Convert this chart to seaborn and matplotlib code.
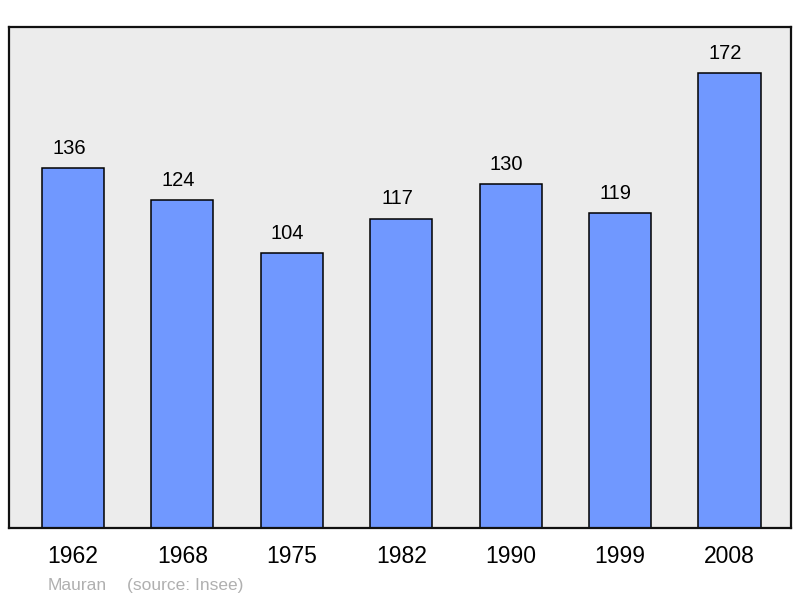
import matplotlib

matplotlib.use("Agg")
import matplotlib.pyplot as plt
import pandas as pd
import seaborn as sns

YEARS = ["1962", "1968", "1975", "1982", "1990", "1999", "2008"]
POPULATION = [136, 124, 104, 117, 130, 119, 172]
COMMUNE = "Mauran"
SOURCE = "(source: Insee)"

BAR_COLOR = "#7098ff"
PANEL_COLOR = "#ececec"


def main() -> None:
    sns.set_theme(style="white")
    plt.rcParams["font.family"] = ["Liberation Sans", "DejaVu Sans"]

    df = pd.DataFrame({"year": YEARS, "population": POPULATION})

    fig = plt.figure(figsize=(8, 5.98), dpi=100)
    ax = fig.add_axes([0.01125, 0.117, 0.9775, 0.8378])
    ax.set_facecolor(PANEL_COLOR)

    sns.barplot(
        data=df,
        x="year",
        y="population",
        color=BAR_COLOR,
        saturation=1,
        width=0.567,
        edgecolor="black",
        linewidth=1.1,
        ax=ax,
    )

    # labels sit a little left of the bar centre in the original
    for patch, value in zip(ax.patches, df["population"]):
        ax.annotate(
            f"{value}",
            (patch.get_x() + patch.get_width() / 2, patch.get_height()),
            xytext=(-3, 7.5),
            textcoords="offset points",
            ha="center",
            va="bottom",
            fontsize=14.5,
            color="black",
        )

    ax.set_xlim(-0.585, 6.562)
    ax.set_ylim(0, 189.4)
    ax.set_yticks([])
    ax.set_xlabel("")
    ax.set_ylabel("")
    ax.tick_params(axis="x", length=0, pad=12, labelsize=16.5, colors="black")
    for spine in ax.spines.values():
        spine.set_visible(True)
        spine.set_color("#111111")
        spine.set_linewidth(1.6)

    fig.text(48 / 800, 1 - 590 / 598, COMMUNE, ha="left", va="baseline", fontsize=12.5, color="#b0b0b0")
    fig.text(127 / 800, 1 - 590 / 598, SOURCE, ha="left", va="baseline", fontsize=12.5, color="#b0b0b0")

    fig.savefig("out.png", dpi=100)
    plt.close(fig)


if __name__ == "__main__":
    main()
